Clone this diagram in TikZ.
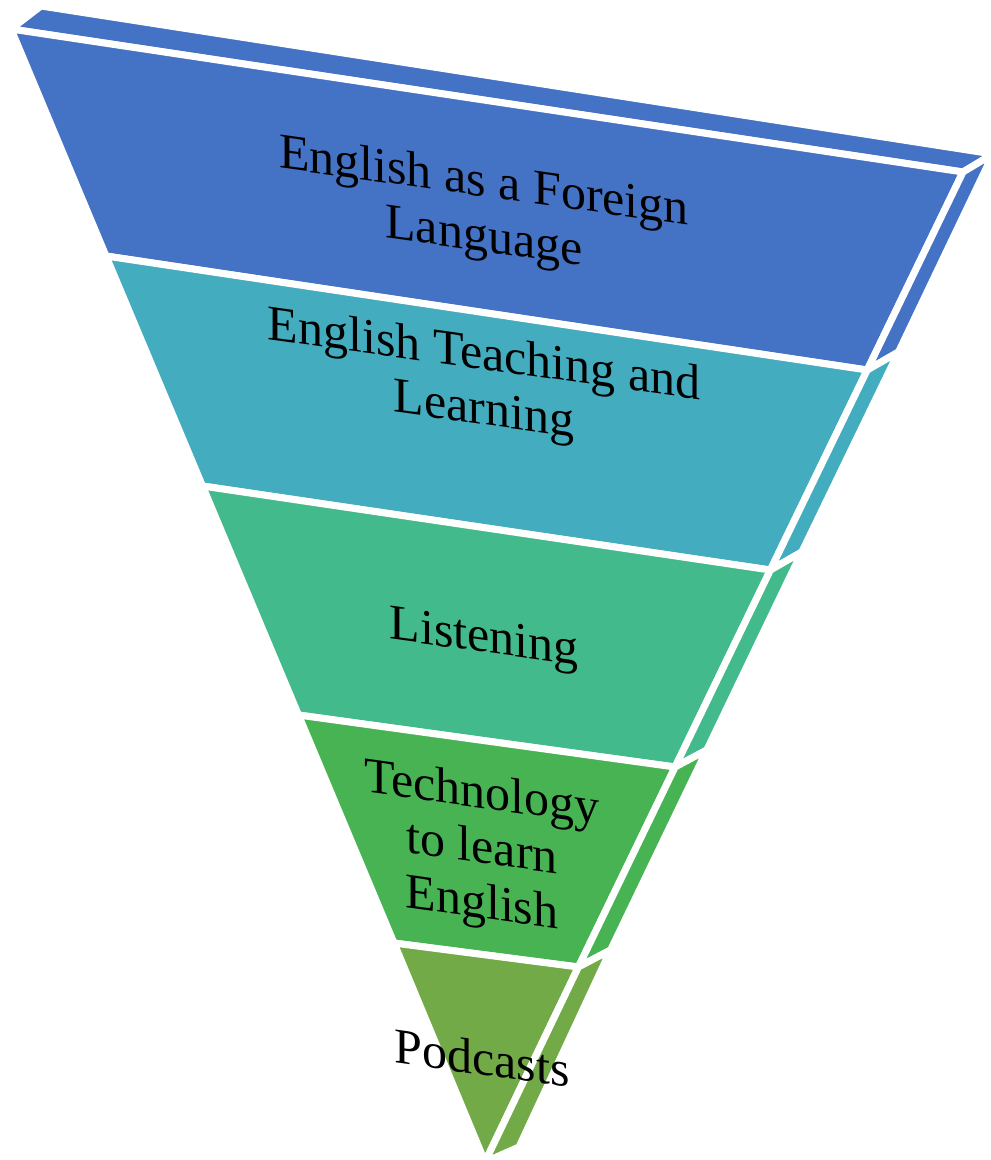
\documentclass[tikz,border=0pt]{standalone}
\usepackage{fontspec}
\setmainfont{Liberation Serif}
\definecolor{cA}{HTML}{4472C4}
\definecolor{cB}{HTML}{43ACBE}
\definecolor{cC}{HTML}{43BA8C}
\definecolor{cD}{HTML}{47B353}
\definecolor{cE}{HTML}{71AA47}
\begin{document}
\begin{tikzpicture}[x=1pt,y=-1pt,
  face/.style={draw=white, line width=7pt, line join=round},
  lbl/.style={font=\fontsize{50}{55}\selectfont, align=center, yslant=-0.14, inner sep=0pt, text=black}]
\useasboundingbox (0,0) rectangle (991,1160);
% front face left edge points
\coordinate (L0) at (11,29);
\coordinate (L1) at (106,256);
\coordinate (L2) at (202.5,486);
\coordinate (L3) at (298.5,715);
\coordinate (L4) at (394,943);
% front face right edge points
\coordinate (R0) at (963,172);
\coordinate (R1) at (867.2,370);
\coordinate (R2) at (770.4,570);
\coordinate (R3) at (675.1,767);
\coordinate (R4) at (578.4,967);
\coordinate (A) at (485,1162);
% side face outer points
\coordinate (S0) at (993,154);
\coordinate (S1) at (898.5,352);
\coordinate (S2) at (801.8,552);
\coordinate (S3) at (706.8,750);
\coordinate (S4) at (610.6,950);
\coordinate (SA) at (519,1147);
% top face back-left
\coordinate (T0) at (41,6);
% top face
\fill[cA, face] (L0) -- (T0) -- (S0) -- (R0) -- cycle;
% front faces
\fill[cA, face] (L0) -- (R0) -- (R1) -- (L1) -- cycle;
\fill[cB, face] (L1) -- (R1) -- (R2) -- (L2) -- cycle;
\fill[cC, face] (L2) -- (R2) -- (R3) -- (L3) -- cycle;
\fill[cD, face] (L3) -- (R3) -- (R4) -- (L4) -- cycle;
\fill[cE, face] (L4) -- (R4) -- (A) -- cycle;
% side faces
\fill[cA, face] (R0) -- (S0) -- (S1) -- (R1) -- cycle;
\fill[cB, face] (R1) -- (S1) -- (S2) -- (R2) -- cycle;
\fill[cC, face] (R2) -- (S2) -- (S3) -- (R3) -- cycle;
\fill[cD, face] (R3) -- (S3) -- (S4) -- (R4) -- cycle;
\fill[cE, face] (R4) -- (S4) -- (SA) -- (A) -- cycle;
% labels
\node[lbl] (t1) at (484,212) {English as a Foreign\\Language};
\node[lbl] (t2) at (484,385) {English Teaching and\\Learning};
\node[lbl] (t3) at (484,641) {Listening};
\node[lbl] (t4) at (482,851) {Technology\\to learn\\English};
\node[lbl] (t5) at (482,1058) {Podcasts};
\end{tikzpicture}
\end{document}
